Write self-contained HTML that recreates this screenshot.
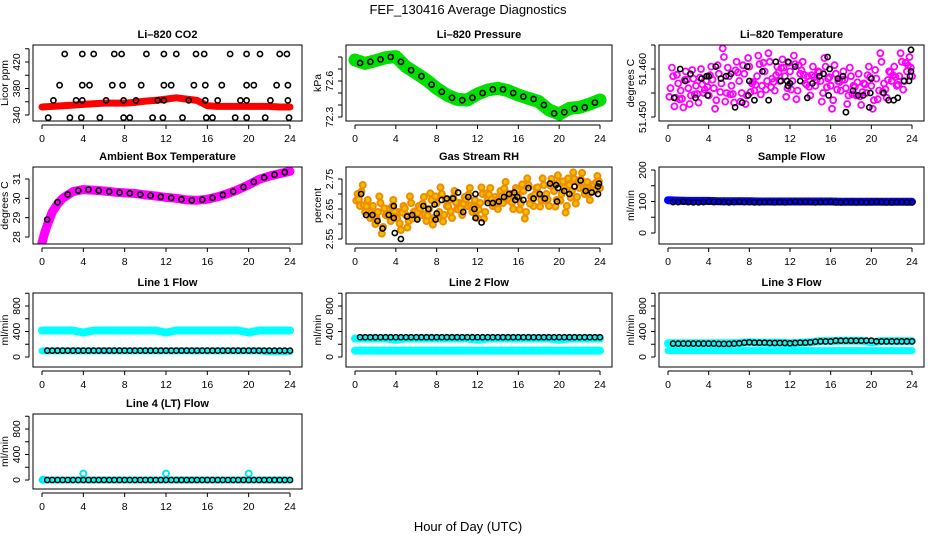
<!DOCTYPE html>
<html><head><meta charset="utf-8">
<style>
html,body{margin:0;padding:0;background:#fff;}
svg{display:block;font-family:"Liberation Sans",Arial,sans-serif;}
.tk{font-size:10.5px;fill:#000;}
.tt{font-size:11px;font-weight:bold;fill:#000;}
</style></head>
<body>
<svg id="fig" width="936" height="540" viewBox="0 0 936 540" xmlns="http://www.w3.org/2000/svg">
<rect width="936" height="540" fill="#fff"/>
<text x="468" y="14" text-anchor="middle" font-size="13">FEF_130416  Average Diagnostics</text>
<text x="468" y="531" text-anchor="middle" font-size="13">Hour of Day (UTC)</text>
</svg>
<script>
// ---------- data ----------
const hours=[0,1,2,3,4,5,6,7,8,9,10,11,12,13,14,15,16,17,18,19,20,21,22,23,24];
const halfT=[0.5,1,1.5,2,2.5,3,3.5,4,4.5,5,5.5,6,6.5,7,7.5,8,8.5,9,9.5,10,10.5,11,11.5,12,12.5,13,13.5,14,14.5,15,15.5,16,16.5,17,17.5,18,18.5,19,19.5,20,20.5,21,21.5,22,22.5,23,23.5,24];
const hourMidT=[0.5,1.5,2.5,3.5,4.5,5.5,6.5,7.5,8.5,9.5,10.5,11.5,12.5,13.5,14.5,15.5,16.5,17.5,18.5,19.5,20.5,21.5,22.5,23.5];
const xTicks=[0,4,8,12,16,20,24];

const co2Band=[352,353,354,355,356,357,358,358,358,359,361,362,364,366,364,362,354,353,353,353,353,353,353,352,352];
const co2T=[2.2,3.9,5.0,7.0,7.7,10.1,11.8,13.0,14.9,15.7,18.2,19.8,21.1,23.0,23.7,
 1.7,3.9,4.6,6.8,7.8,9.6,11.8,12.5,14.7,15.8,17.4,19.8,20.5,22.7,23.8,
 1.1,3.3,3.9,6.2,7.9,9.1,11.2,11.8,14.2,15.8,17.0,19.2,19.8,22.1,23.8,
 0.6,2.7,3.8,5.6,7.9,8.5,10.7,11.7,13.6,15.9,16.5,18.7,19.8,21.6,23.9];
const co2V=[432,432,432,432,432,432,432,432,432,432,432,432,432,432,432,
 385,385,385,385,385,385,385,385,385,385,385,385,385,385,385,
 362,362,362,362,362,362,362,362,362,362,362,362,362,362,362,
 336,336,336,336,336,336,336,336,336,336,336,336,336,336,336];

const pressBand=[72.775,72.747,72.769,72.794,72.803,72.719,72.664,72.608,72.539,72.483,72.447,72.442,72.492,72.525,72.539,72.519,72.483,72.456,72.428,72.358,72.325,72.372,72.381,72.408,72.442];
const pressBlk=[72.75,72.76,72.78,72.80,72.76,72.69,72.64,72.57,72.51,72.46,72.44,72.46,72.50,72.53,72.53,72.50,72.47,72.45,72.40,72.33,72.34,72.37,72.38,72.42];

const tempMag=[51.456,51.4585,51.454,51.457,51.4555,51.452,51.4595,51.456,51.4545,51.458,51.4565,51.453,51.460,51.455,51.4575,51.4545,51.4605,51.456,51.4535,51.459,51.457,51.4625,51.455,51.4585,
51.4565,51.453,51.4615,51.4575,51.455,51.459,51.4545,51.4605,51.457,51.4555,51.4585,51.461,51.4565,51.4595,51.4575,51.4615,51.458,51.4555,51.4605,51.4575,51.462,51.4585,51.456,51.4595,
51.4575,51.461,51.4555,51.459,51.4615,51.457,51.4585,51.4545,51.4605,51.4565,51.4595,51.4575,51.455,51.4605,51.458,51.4565,51.4535,51.459,51.4575,51.4555,51.4595,51.456,51.4545,51.4585,
51.4565,51.4545,51.459,51.4525,51.457,51.455,51.4605,51.4565,51.4535,51.458,51.4555,51.4615,51.457,51.454,51.4595,51.4575,51.4605,51.4565,51.4585,51.4615,51.4575,51.4595,51.4625,51.4585];
const tempBlkT=[0.6,1.2,1.7,2.2,2.7,3.3,3.8,3.9,4.0,4.7,5.2,5.7,6.2,6.6,7.3,7.8,7.9,8.0,8.5,9.3,9.9,10.6,11.1,11.7,11.8,11.8,12.0,12.5,13.0,13.7,14.2,14.9,15.3,15.7,15.8,15.9,16.7,17.2,17.5,18.2,18.7,19.2,19.8,19.9,20.0,21.2,21.7,22.2,22.6,23.2,23.7,23.8,23.9,23.9];
const tempBlkV=[51.4540,51.4600,51.4575,51.4590,51.4540,51.4580,51.4585,51.4545,51.4585,51.4605,51.4580,51.4585,51.4590,51.4520,51.4530,51.4605,51.4545,51.4575,51.4535,51.4595,51.4535,51.4615,51.4575,51.4575,51.4565,51.4615,51.4570,51.4605,51.4575,51.4540,51.4570,51.4585,51.4590,51.4625,51.4545,51.4600,51.4580,51.4585,51.4510,51.4555,51.4545,51.4545,51.4520,51.4550,51.4580,51.4550,51.4535,51.4535,51.4540,51.4575,51.4575,51.4585,51.4595,51.4640];

const ambT=[0,0.25,0.5,1,1.5,2,3,4,5,6,7,8,9,10,11,12,13,14,15,16,17,18,19,20,21,22,23,24];
const ambBand=[27.7,28.2,28.6,29.3,29.7,30.0,30.35,30.45,30.42,30.38,30.32,30.28,30.25,30.18,30.12,30.05,30.0,29.92,29.9,29.95,30.08,30.25,30.45,30.7,30.98,31.15,31.28,31.4];
const ambBlk=[28.9,29.8,30.2,30.4,30.45,30.4,30.35,30.3,30.26,30.2,30.14,30.08,30.02,29.95,29.9,29.93,30.02,30.18,30.35,30.58,30.85,31.08,31.22,31.35];

const rhOr=[2.70,2.66,2.73,2.64,2.68,2.62,2.66,2.60,2.64,2.67,2.59,2.63,2.65,2.61,2.68,2.62,2.64,2.58,2.66,2.63,2.61,2.67,2.64,2.62,
2.66,2.63,2.69,2.61,2.65,2.68,2.62,2.67,2.64,2.70,2.63,2.66,2.68,2.62,2.71,2.65,2.67,2.63,2.69,2.66,2.72,2.64,2.68,2.62,
2.67,2.70,2.64,2.68,2.72,2.66,2.69,2.65,2.71,2.67,2.74,2.68,2.70,2.65,2.72,2.69,2.67,2.71,2.64,2.73,2.69,2.66,2.72,2.70,
2.68,2.73,2.70,2.66,2.75,2.71,2.68,2.74,2.70,2.72,2.66,2.73,2.71,2.75,2.69,2.72,2.77,2.70,2.74,2.68,2.73,2.71,2.76,2.72];
const rhBlkT=[0.6,1.1,1.7,2.2,2.7,3.3,3.8,3.8,3.9,4.5,5.1,5.6,6.1,6.7,7.2,7.8,7.9,8.0,8.5,9.0,9.6,10.1,10.6,11.1,11.7,11.8,11.8,12.4,13.0,13.5,14.1,14.6,15.1,15.6,15.7,15.9,16.5,17.0,17.5,18.1,18.6,19.1,19.7,19.8,19.9,20.5,21.0,21.5,22.1,22.6,23.2,23.8,23.8,23.9];
const rhBlkV=[2.70,2.63,2.63,2.61,2.585,2.63,2.66,2.62,2.57,2.55,2.625,2.63,2.615,2.66,2.65,2.665,2.615,2.635,2.68,2.685,2.685,2.705,2.64,2.69,2.65,2.62,2.70,2.605,2.67,2.67,2.675,2.69,2.70,2.705,2.68,2.69,2.68,2.72,2.685,2.70,2.685,2.735,2.73,2.675,2.72,2.71,2.70,2.725,2.745,2.71,2.705,2.70,2.725,2.735];

const sampleBand=[104,103,102,102,102,101,101,101,101,100,100,100,100,100,100,100,100,99,99,99,99,99,99,99,99];
const sampleBlk=[98,98,99,98,97,97,98,99,98,99,98,97,98,99,98,98,97,97,98,98,97,98,97,98,99,98,99,98,97,98,98,99,97,97,98,98,97,98,97,98,99,98,97,97,98,98,97,97];

const l1Hi=[415,416,416,415,385,415,415,416,416,415,415,416,385,416,416,415,415,416,415,415,385,415,416,415,415];
const l1Lo=[95,95,95,95,95,95,95,95,95,95,95,95,95,95,95,95,95,95,95,95,95,95,85,85,85];
const l1Blk=[100,100,100,100,100,100,100,100,100,100,100,100,100,100,100,100,100,100,100,100,100,100,100,100,100,100,100,100,100,100,100,100,100,100,100,100,100,100,100,100,100,100,100,100,100,100,100,100];

const l2Hi=[290,290,290,290,270,290,290,290,290,290,290,290,270,290,290,290,290,290,290,290,270,290,290,290,290];
const l2Lo=[100,100,100,100,100,100,100,100,100,100,100,100,100,100,100,100,100,100,100,100,100,100,100,100,100];
const l2Blk=[310,310,310,310,310,310,310,310,310,310,310,310,310,310,310,310,310,310,310,310,310,310,310,310,310,310,310,310,310,310,310,310,310,310,310,310,310,310,310,310,310,310,310,310,310,310,310,310];

const l3Hi=[215,215,215,215,215,215,215,220,230,225,225,225,215,225,230,250,250,255,255,255,230,250,250,250,250];
const l3Lo=[100,100,100,100,100,100,100,100,100,100,100,100,100,100,100,100,100,100,100,100,100,100,100,100,100];
const l3Blk=[210,210,210,210,210,210,210,210,210,205,205,205,210,215,225,230,225,225,225,220,220,220,220,215,220,225,225,230,240,245,245,245,255,255,255,255,255,255,258,258,245,245,245,245,245,245,245,245];

const l4Cy=[0,0,0,0,0,0,0,0,0,0,0,0,0,0,0,0,0,0,0,0,0,0,0,0,0];
const l4SpikeT=[0.1,4,12,20];
const l4SpikeV=[5,100,100,100];
const l4Blk=[0,0,0,0,0,0,0,0,0,0,0,0,0,0,0,0,0,0,0,0,0,0,0,0,0,0,0,0,0,0,0,0,0,0,0,0,0,0,0,0,0,0,0,0,0,0,0,0];

// ---------- layout ----------
const NS="http://www.w3.org/2000/svg";
const svg=document.getElementById('fig');
const cols=[[33,302],[346,612],[659,924]];
const rows=[[45,121],[167,244],[293,367],[414,489]];
function mk(tag,attrs,parent){const e=document.createElementNS(NS,tag);for(const k in attrs)e.setAttribute(k,attrs[k]);(parent||svg).appendChild(e);return e;}

function panel(c,r,name,title,ylab,anch,yt,ylbl){
  const [L,R]=cols[c],[T,B]=rows[r];
  const g=mk('g',{});
  
  
  const xs=h=>L+9+h*(R-L-21)/24;
  const ys=v=>anch[1]+(v-anch[0])*(anch[3]-anch[1])/(anch[2]-anch[0]);
  const clip='clip'+c+r;
  const cp=mk('clipPath',{id:clip},g);mk('rect',{x:L,y:T,width:R-L,height:B-T},cp);
  const plot=mk('g',{'clip-path':'url(#'+clip+')'},g);
  
  
  const box=mk('rect',{x:L,y:T,width:R-L,height:B-T,fill:'none',stroke:'#000','stroke-width':1},g);
  
  
  const t=mk('text',{x:(L+R)/2,y:T-7,'text-anchor':'middle',class:'tt'},g);t.textContent=title;
  
  
  // x axis
  mk('line',{x1:xs(0),x2:xs(24),y1:B+4,y2:B+4,stroke:'#000'},g);
  xTicks.forEach(h=>{mk('line',{x1:xs(h),x2:xs(h),y1:B+4,y2:B+8,stroke:'#000'},g);
    const tx=mk('text',{x:xs(h),y:B+21,'text-anchor':'middle',class:'tk'},g);tx.textContent=h;
    
    });
  // y axis
  mk('line',{x1:L-4,x2:L-4,y1:ys(yt[0]),y2:ys(yt[yt.length-1]),stroke:'#000'},g);
  yt.forEach(v=>{mk('line',{x1:L-8,x2:L-4,y1:ys(v),y2:ys(v),stroke:'#000'},g);});
  ylbl.forEach(v=>{const y=ys(parseFloat(v));const tx=mk('text',{x:L-13,y:y,'text-anchor':'middle',class:'tk',transform:'rotate(-90 '+(L-13)+' '+y+')'},g);tx.textContent=v;
    
    });
  const yl=mk('text',{x:L-25,y:(T+B)/2,'text-anchor':'middle',class:'tk',transform:'rotate(-90 '+(L-25)+' '+(T+B)/2+')'},g);yl.textContent=ylab;
  
  
  return {plot,xs,ys};
}
function band(p,ts,vs,color,w,nm){
  const d=ts.map((t,i)=>(i?'L':'M')+p.xs(t).toFixed(1)+' '+p.ys(vs[i]).toFixed(1)).join(' ');
  const e=mk('path',{d:d,fill:'none',stroke:color,'stroke-width':w,'stroke-linejoin':'round','stroke-linecap':'round'},p.plot);
  
  
}
function pts(p,ts,vs,color,r,sw,nm,fill){
  ts.forEach((t,i)=>{const e=mk('circle',{cx:p.xs(t).toFixed(1),cy:p.ys(vs[i]).toFixed(1),r:r,fill:fill||'none',stroke:color,'stroke-width':sw},p.plot);
    
    });
}
const qT=tempMag.map((_,i)=>(i+1)*0.25);

// CO2
let p=panel(0,0,'co2-panel','Li\u2013820 CO2','Licor ppm',[340,115,420,62],[340,360,380,400,420,440],['340','380','420']);
band(p,hours,co2Band,'#ff0000',7,'co2-series');
pts(p,co2T,co2V,'#000',2.6,1.6,'co2-point');
// Pressure
p=panel(1,0,'pressure-panel','Li\u2013820 Pressure','kPa',[72.3,117,72.6,81],[72.3,72.4,72.5,72.6,72.7,72.8],['72.3','72.6']);
band(p,hours,pressBand,'#00e000',13,'pressure-series');
pts(p,hourMidT,pressBlk,'#000',2.6,1.6,'pressure-point');
// Temperature
p=panel(2,0,'temperature-panel','Li\u2013820 Temperature','degrees C',[51.45,117,51.46,69],[51.45,51.455,51.46,51.465],['51.450','51.460']);
pts(p,qT,tempMag,'#ff00ff',3,1.8,'temperature-point');
pts(p,qT.map(t=>t-0.12),tempMag.map((v,i)=>v+(i%2?0.0018:-0.0018)),'#ff00ff',3,1.8,'temperature-point');
pts(p,tempBlkT,tempBlkV,'#000',2.6,1.6,'temperature-avg-point');
// Ambient
p=panel(0,1,'ambient-temp-panel','Ambient Box Temperature','degrees C',[28,237,31,179],[28,29,30,31],['28','29','30','31']);
band(p,ambT,ambBand,'#ff00ff',9,'ambient-series');
pts(p,hourMidT,ambBlk,'#000',2.6,1.6,'ambient-point');
// RH
p=panel(1,1,'rh-panel','Gas Stream RH','percent',[2.55,239,2.75,179],[2.55,2.6,2.65,2.7,2.75],['2.55','2.65','2.75']);
pts(p,qT,rhOr,'#f08c00',3,2,'rh-point','#f0c000');
pts(p,qT.map(t=>t-0.12),rhOr.map((v,i)=>v+(i%2?0.022:-0.022)),'#f08c00',3,2,'rh-point','#f0c000');
pts(p,rhBlkT,rhBlkV,'#000',2.6,1.6,'rh-avg-point');
// Sample flow
p=panel(2,1,'sample-flow-panel','Sample Flow','ml/min',[0,233,200,170],[0,50,100,150,200],['0','100','200']);
band(p,hours,sampleBand,'#0000ff',8,'sample-flow-series');
pts(p,halfT,sampleBlk,'#000',2.6,1.5,'sample-flow-point');
// Lines
const lineAnch=[[0,357,800,306],[0,480,800,429]];
const fT=[0,200,400,600,800,1000],fL=['0','400','800'];
p=panel(0,2,'line1-panel','Line 1 Flow','ml/min',lineAnch[0],fT,fL);
band(p,hours,l1Hi,'#00ffff',8,'line1-high-series');band(p,hours,l1Lo,'#00ffff',7,'line1-low-series');
pts(p,halfT,l1Blk,'#000',2.6,1.5,'line1-point');
p=panel(1,2,'line2-panel','Line 2 Flow','ml/min',lineAnch[0],fT,fL);
band(p,hours,l2Hi,'#00ffff',8,'line2-high-series');band(p,hours,l2Lo,'#00ffff',8,'line2-low-series');
pts(p,halfT,l2Blk,'#000',2.6,1.5,'line2-point');
p=panel(2,2,'line3-panel','Line 3 Flow','ml/min',lineAnch[0],fT,fL);
band(p,hours,l3Hi,'#00ffff',8,'line3-high-series');band(p,hours,l3Lo,'#00ffff',7,'line3-low-series');
pts(p,halfT,l3Blk,'#000',2.6,1.5,'line3-point');
p=panel(0,3,'line4-panel','Line 4 (LT) Flow','ml/min',lineAnch[1],fT,fL);
band(p,hours,l4Cy,'#00ffff',7,'line4-series');
pts(p,l4SpikeT,l4SpikeV,'#00e5ee',3,2,'line4-spike');
pts(p,halfT,l4Blk,'#000',2.6,1.5,'line4-point');
</script>
</body></html>
